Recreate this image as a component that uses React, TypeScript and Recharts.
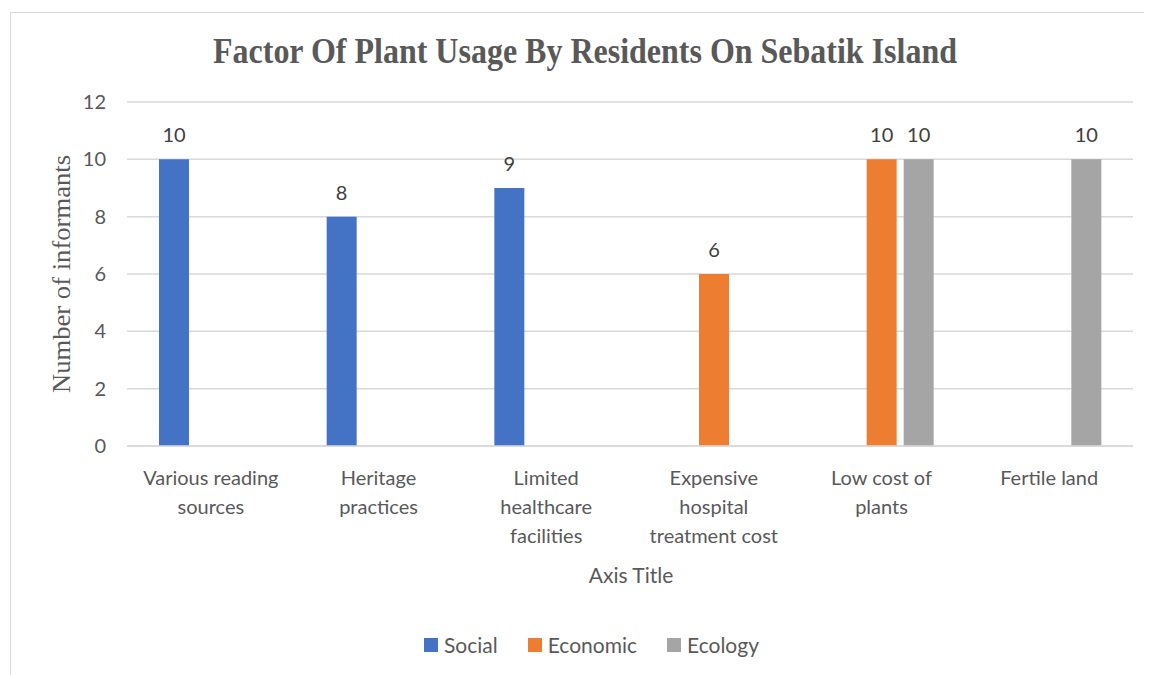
import React from "react";
import { BarChart, Bar, XAxis, YAxis, CartesianGrid, LabelList } from "recharts";

const categories = [
  "Various reading sources",
  "Heritage practices",
  "Limited healthcare facilities",
  "Expensive hospital treatment cost",
  "Low cost of plants",
  "Fertile land",
];
const tickLines = [
  ["Various reading", "sources"],
  ["Heritage", "practices"],
  ["Limited", "healthcare", "facilities"],
  ["Expensive", "hospital", "treatment cost"],
  ["Low cost of", "plants"],
  ["Fertile land"],
];
const social = [10, 8, 9, null, null, null];
const economic = [null, null, null, 6, 10, null];
const ecology = [null, null, null, null, 10, 10];
const yTicks = [0, 2, 4, 6, 8, 10, 12];
const seriesNames = ["Social", "Economic", "Ecology"];
const colors = ["#4472C4", "#ED7D31", "#A5A5A5"];

const data = categories.map((c, i) => ({
  name: c,
  Social: social[i],
  Economic: economic[i],
  Ecology: ecology[i],
}));

const SANS = "Lato, 'Noto Sans', sans-serif";
const SERIF = "'Liberation Serif', 'DejaVu Serif', serif";
const TXT = "#595959";

const XTick = (props: any) => {
  const { x, y, payload } = props;
  const idx = categories.indexOf(payload.value);
  const lines = tickLines[idx] || [payload.value];
  return (
    <g>
      {lines.map((l, i) => (
        <text
          key={i}
          x={x}
          y={y + 39 + i * 28.8}
          textAnchor="middle"
          fontFamily={SANS}
          fontSize={20}
          fill={TXT}
        >
          {l}
        </text>
      ))}
    </g>
  );
};

export default function App() {
  return (
    <div style={{ position: "relative", width: 1144, height: 667, overflow: "hidden", background: "#fff" }}>
      <div
        style={{
          position: "absolute",
          left: 2,
          top: 4,
          width: 1300,
          height: 800,
          border: "1.5px solid #d9d9d9",
          boxSizing: "border-box",
        }}
      />
      <div style={{ position: "absolute", left: 0, top: 0 }}>
        <BarChart
          width={1144}
          height={667}
          data={data}
          margin={{ top: 94, right: 19, bottom: 0, left: 0 }}
          barSize={30}
          barGap={7}
        >
          <CartesianGrid vertical={false} stroke="#d9d9d9" strokeWidth={1.5} />
          <XAxis
            dataKey="name"
            height={229}
            tickLine={false}
            tickSize={0}
            tickMargin={0}
            axisLine={{ stroke: "#d9d9d9", strokeWidth: 1.5 }}
            tick={<XTick />}
            interval={0}
          />
          <YAxis
            width={119}
            domain={[0, 12]}
            ticks={yTicks}
            axisLine={false}
            tickLine={false}
            tickSize={0}
            tickMargin={21}
            tick={{ fontFamily: SANS, fontSize: 20, fill: TXT }}
          />
          {seriesNames.map((s, i) => (
            <Bar key={s} dataKey={s} fill={colors[i]} isAnimationActive={false}>
              <LabelList
                dataKey={s}
                position="top"
                offset={17}
                style={{ fontFamily: SANS, fontSize: 20, fill: "#404040" }}
              />
            </Bar>
          ))}
        </BarChart>
      </div>
      <svg
        width={1144}
        height={667}
        style={{ position: "absolute", left: 0, top: 0, pointerEvents: "none" }}
      >
        <text
          x={577}
          y={55}
          textAnchor="middle"
          fontFamily={SERIF}
          fontWeight="bold"
          fontSize={35}
          fill={TXT}
          textLength={744}
          lengthAdjust="spacingAndGlyphs"
        >
          Factor Of Plant Usage By Residents On Sebatik Island
        </text>
        <text
          transform="translate(62,266) rotate(-90)"
          textAnchor="middle"
          fontFamily={SERIF}
          fontSize={25}
          fill={TXT}
          textLength={238}
          lengthAdjust="spacingAndGlyphs"
        >
          Number of informants
        </text>
        <text x={623} y={575} textAnchor="middle" fontFamily={SANS} fontSize={21} fill={TXT}>
          Axis Title
        </text>
      </svg>
      <div
        style={{
          position: "absolute",
          left: 416,
          top: 624,
          display: "flex",
          alignItems: "center",
          fontFamily: SANS,
          fontSize: 21,
          color: TXT,
          whiteSpace: "nowrap",
        }}
      >
        {seriesNames.map((s, i) => (
          <div key={s} style={{ display: "flex", alignItems: "center", marginRight: 30 }}>
            <div style={{ width: 14, height: 14, background: colors[i], marginRight: 6 }} />
            <span>{s}</span>
          </div>
        ))}
      </div>
    </div>
  );
}
